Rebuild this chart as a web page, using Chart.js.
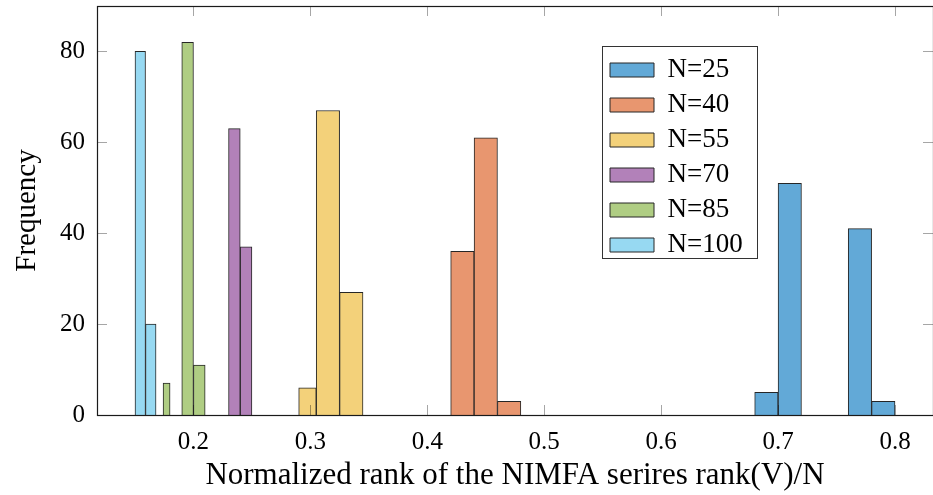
<!DOCTYPE html>
<html>
<head>
<meta charset="utf-8">
<script src="https://cdn.jsdelivr.net/npm/chart.js@4.4.1/dist/chart.umd.min.js"></script>
<style>
  html, body { margin: 0; padding: 0; background: #fff; }
</style>
</head>
<body>
<canvas id="histChart" width="933" height="495"></canvas>
<script>
const seriesLabels = ['N=25', 'N=40', 'N=55', 'N=70', 'N=85', 'N=100'];
const seriesColors = ['#62a9d7', '#e8966f', '#f3d17a', '#b281b9', '#afcd83', '#97d9f2'];

// histogram bins (normalized rank): lower edge, upper edge, count
const binLow25 = [0.68, 0.70, 0.76, 0.78];
const binHigh25 = [0.70, 0.72, 0.78, 0.80];
const count25 = [5, 51, 41, 3];

const binLow40 = [0.42, 0.44, 0.46];
const binHigh40 = [0.44, 0.46, 0.48];
const count40 = [36, 61, 3];

const binLow55 = [0.29, 0.305, 0.325];
const binHigh55 = [0.305, 0.325, 0.345];
const count55 = [6, 67, 27];

const binLow70 = [0.23, 0.24];
const binHigh70 = [0.24, 0.25];
const count70 = [63, 37];

const binLow85 = [0.174, 0.19, 0.20];
const binHigh85 = [0.18, 0.20, 0.21];
const count85 = [7, 82, 11];

const binLow100 = [0.15, 0.159];
const binHigh100 = [0.159, 0.168];
const count100 = [80, 20];

const binLows = [binLow25, binLow40, binLow55, binLow70, binLow85, binLow100];
const binHighs = [binHigh25, binHigh40, binHigh55, binHigh70, binHigh85, binHigh100];
const counts = [count25, count40, count55, count70, count85, count100];

const xTicks = [0.2, 0.3, 0.4, 0.5, 0.6, 0.7, 0.8];
const yTicks = [0, 20, 40, 60, 80];

const serif = "'Liberation Serif', 'Times New Roman', serif";

// one dataset per bar width, so every bar spans its own bin
function buildDatasets() {
    const datasets = [];
    seriesLabels.forEach((label, s) => {
        const groups = new Map();
        binLows[s].forEach((lo, i) => {
            const hi = binHighs[s][i];
            const w = Math.round((hi - lo) * 10000) / 10000;
            if (!groups.has(w)) groups.set(w, []);
            groups.get(w).push({ x: (lo + hi) / 2, y: counts[s][i] });
        });
        let first = true;
        groups.forEach((points, w) => {
            datasets.push({
                label: label,
                data: points,
                inLegend: first,
                backgroundColor: seriesColors[s],
                borderColor: '#262626',
                borderWidth: 1,
                grouped: false,
                barThickness: (ctx) => {
                    const xs = ctx.chart.scales.x;
                    return Math.abs(xs.getPixelForValue(w) - xs.getPixelForValue(0));
                }
            });
            first = false;
        });
    });
    return datasets;
}

// pgfplots style: ticks inside the frame on all four sides, then the frame
const frameAndTicks = {
    id: 'frameAndTicks',
    afterDatasetsDraw(chart) {
        const { ctx, chartArea: a, scales: { x, y } } = chart;
        ctx.save();
        ctx.strokeStyle = 'rgba(0, 0, 0, 0.35)';
        ctx.lineWidth = 1;
        ctx.beginPath();
        x.ticks.forEach(t => {
            const px = Math.round(x.getPixelForValue(t.value)) + 0.5;
            ctx.moveTo(px, a.bottom); ctx.lineTo(px, a.bottom - 10);
            ctx.moveTo(px, a.top); ctx.lineTo(px, a.top + 10);
        });
        y.ticks.forEach(t => {
            const py = Math.round(y.getPixelForValue(t.value)) + 0.5;
            ctx.moveTo(a.left, py); ctx.lineTo(a.left + 10, py);
            ctx.moveTo(a.right, py); ctx.lineTo(a.right - 10, py);
        });
        ctx.stroke();
        ctx.strokeStyle = '#1a1a1a';
        ctx.lineWidth = 1.2;
        ctx.strokeRect(a.left + 0.5, a.top + 0.5, a.right - a.left, a.bottom - a.top);
        ctx.restore();
    }
};

// move the legend into the plot and frame it
const legendBox = { x: 602, y: 46, w: 155, h: 212 };
const legendPlacer = {
    id: 'legendPlacer',
    afterLayout(chart) {
        const lg = chart.legend;
        const pad = lg.options.labels.padding;
        const fs = lg.options.labels.font.size;
        lg.left = 610 - pad;
        lg.top = 70 - fs / 2 - pad;
        lg.right = lg.left + legendBox.w;
        lg.bottom = lg.top + 400;
        lg.width = lg.right - lg.left;
        lg.height = lg.bottom - lg.top;
    },
    afterDraw(chart) {
        const ctx = chart.ctx;
        ctx.save();
        ctx.strokeStyle = '#333';
        ctx.lineWidth = 1;
        ctx.strokeRect(legendBox.x + 0.5, legendBox.y + 0.5, legendBox.w, legendBox.h);
        ctx.restore();
    }
};

function createHistChart() {
    const ctx = document.getElementById('histChart').getContext('2d');
    return new Chart(ctx, {
        type: 'bar',
        data: { datasets: buildDatasets() },
        options: {
            responsive: false,
            animation: false,
            layout: { padding: { left: 0, top: 6, right: -5, bottom: 0 } },
            plugins: {
                legend: {
                    position: 'chartArea',
                    align: 'start',
                    labels: {
                        boxWidth: 44,
                        boxHeight: 14,
                        padding: 8,
                        color: '#000',
                        font: { family: serif, size: 27 },
                        filter: (item, data) => data.datasets[item.datasetIndex].inLegend
                    }
                },
                tooltip: { enabled: false }
            },
            scales: {
                x: {
                    type: 'linear',
                    offset: false,
                    min: 0.1175,
                    max: 0.8325,
                    grid: { display: false, drawTicks: false },
                    border: { display: false },
                    afterBuildTicks: (s) => { s.ticks = xTicks.map(v => ({ value: v })); },
                    afterFit: (s) => { s.height = 80; s.paddingLeft = 0; s.paddingRight = 0; },
                    ticks: {
                        color: '#000',
                        padding: 12,
                        font: { family: serif, size: 25 },
                        callback: (v) => v.toFixed(1)
                    },
                    title: {
                        display: true,
                        text: 'Normalized rank of the NIMFA serires rank(V)/N',
                        color: '#000',
                        font: { family: serif, size: 31 },
                        padding: { top: 0, bottom: 1 }
                    }
                },
                y: {
                    min: 0,
                    max: 90,
                    grid: { display: false, drawTicks: false },
                    border: { display: false },
                    afterBuildTicks: (s) => { s.ticks = yTicks.map(v => ({ value: v })); },
                    afterFit: (s) => { s.width = 97; s.paddingTop = 0; s.paddingBottom = 0; },
                    ticks: {
                        color: '#000',
                        padding: 12,
                        font: { family: serif, size: 25 }
                    },
                    title: {
                        display: true,
                        text: 'Frequency',
                        color: '#000',
                        font: { family: serif, size: 29 },
                        padding: { top: 10, bottom: 0 }
                    }
                }
            }
        },
        plugins: [frameAndTicks, legendPlacer]
    });
}

document.addEventListener('DOMContentLoaded', () => {
    createHistChart();
});
</script>
</body>
</html>
